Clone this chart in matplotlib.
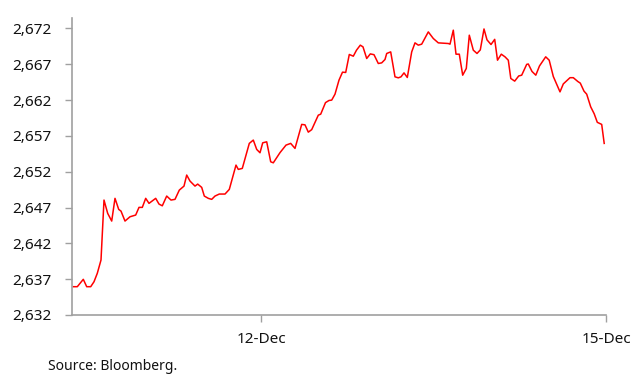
import matplotlib
matplotlib.use("Agg")
import matplotlib.pyplot as plt
from matplotlib.ticker import FuncFormatter

# x positions (time offset units along the axis)
t = [1.3, 5.3, 11.3, 14.7, 18.7, 22, 25.3, 29, 32, 35.7,
     39.7, 43, 46.7, 49, 53, 58, 63.7, 67, 70.3, 73.7,
     77, 83.7, 87, 90.3, 94.7, 99, 103, 107.3, 112, 114.7,
     118, 123, 125.7, 129.7, 132.3, 136.3, 139.7, 143, 147.3, 153,
     157.3, 164, 166.3, 170.3, 177.3, 181.3, 184.7, 188, 190.7, 194.7,
     198.7, 201.3, 208, 214, 218.7, 223, 229.7, 233, 236.3, 239.7,
     246.3, 248.7, 253.5, 257, 259.7, 263, 267, 270.5, 273.7, 277.3,
     281.3, 284.5, 288.3, 291, 294.7, 298.3, 302, 306.3, 309.7, 313,
     314.7, 318.7, 323, 326.3, 329, 332, 335.3, 339.7, 343, 346.3,
     349.7, 356.3, 361.3, 366.3, 376.3, 378, 381.3, 384, 387.3, 390.7,
     394.3, 397.3, 401.3, 405, 408.3, 412, 415, 419, 422.7, 425.5,
     429.3, 433, 436.3, 438.8, 442.7, 446.7, 449.7, 454.7, 456.3, 460,
     463.8, 467.5, 473.7, 477.2, 481.3, 488, 491.3, 498, 501.3, 505.8,
     508.3, 512, 514.7, 518.7, 522.2, 525.3, 529.7, 532.2]

price = [2635.95, 2635.95, 2636.98, 2635.95, 2635.95, 2636.64, 2637.82, 2639.67, 2648.04, 2646.18,
         2645.11, 2648.28, 2646.74, 2646.50, 2645.11, 2645.71, 2645.95, 2647.02, 2647.02, 2648.28,
         2647.58, 2648.28, 2647.48, 2647.24, 2648.60, 2648.04, 2648.14, 2649.43, 2649.99, 2651.53,
         2650.69, 2649.99, 2650.27, 2649.81, 2648.60, 2648.28, 2648.14, 2648.60, 2648.88, 2648.88,
         2649.53, 2652.92, 2652.32, 2652.46, 2655.95, 2656.41, 2655.11, 2654.64, 2656.03, 2656.17,
         2653.38, 2653.24, 2654.66, 2655.71, 2655.95, 2655.25, 2658.60, 2658.54, 2657.52, 2657.87,
         2659.89, 2660.03, 2661.64, 2661.94, 2661.99, 2662.82, 2664.78, 2665.89, 2665.85, 2668.36,
         2668.12, 2668.96, 2669.66, 2669.42, 2667.80, 2668.44, 2668.33, 2667.10, 2667.19, 2667.66,
         2668.50, 2668.72, 2665.24, 2665.10, 2665.24, 2665.79, 2665.15, 2668.72, 2669.98, 2669.66,
         2669.80, 2671.51, 2670.59, 2669.98, 2669.89, 2669.80, 2671.75, 2668.40, 2668.40, 2665.47,
         2666.41, 2671.05, 2668.96, 2668.50, 2669.00, 2671.92, 2670.40, 2669.75, 2670.47, 2667.56,
         2668.40, 2668.03, 2667.56, 2665.01, 2664.64, 2665.36, 2665.47, 2666.98, 2667.03, 2665.99,
         2665.47, 2666.76, 2668.03, 2667.56, 2665.29, 2663.14, 2664.25, 2665.12, 2665.12, 2664.59,
         2664.36, 2663.24, 2662.82, 2661.05, 2660.08, 2658.89, 2658.60, 2655.95]

tick_pos = [189, 534]
tick_labels = ["12-Dec", "15-Dec"]
y_ticks = [2632, 2637, 2642, 2647, 2652, 2657, 2662, 2667, 2672]

plt.rcParams['font.family'] = ['Noto Sans', 'DejaVu Sans']

fig = plt.figure(figsize=(6.35, 3.76), dpi=100)
ax = fig.add_axes([72/635, 1 - 315/376, (606-72)/635, (315-18)/376])

ax.plot(t, price, color="#ff0000", lw=1.1, solid_joinstyle="round")

ax.set_xlim(0, 534)
ax.set_ylim(2632, 2673.45)
ax.set_yticks(y_ticks)
ax.yaxis.set_major_formatter(FuncFormatter(lambda v, p: f"{int(round(v)):,}"))
ax.set_xticks(tick_pos)
ax.set_xticklabels(tick_labels)

for s in ["top", "right"]:
    ax.spines[s].set_visible(False)
for s in ["left", "bottom"]:
    ax.spines[s].set_color("#a0a0a0")
    ax.spines[s].set_linewidth(1.2)

ax.tick_params(axis="y", length=5, width=1, color="#a0a0a0", pad=9.5,
               labelsize=11, labelcolor="#111111")
ax.tick_params(axis="x", length=5, width=1, color="#a0a0a0", pad=7,
               labelsize=11, labelcolor="#111111")

fig.text(48/635, 1 - 366/376, "Source: Bloomberg.", fontsize=10,
         color="#111111", va="center", ha="left")

fig.savefig("out.png", dpi=100)
